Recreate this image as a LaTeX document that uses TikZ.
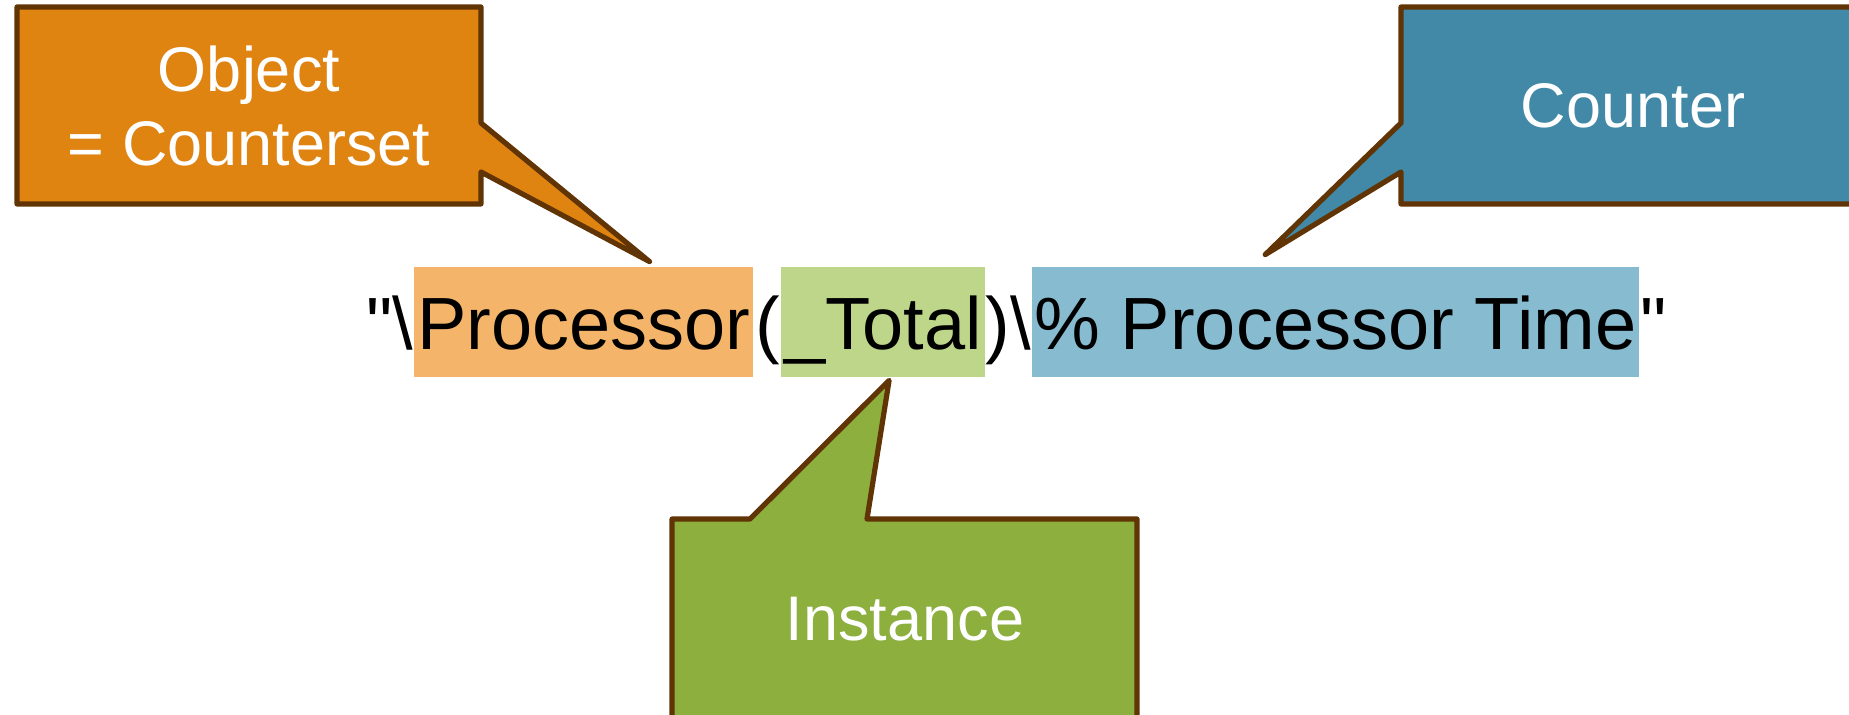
\documentclass[tikz,border=0pt]{standalone}
\usepackage{fontspec}
\setmainfont{Liberation Sans}
\usetikzlibrary{positioning}

\definecolor{edgebrown}{RGB}{96,52,5}
\definecolor{objfill}{RGB}{223,131,17}
\definecolor{ctrfill}{RGB}{65,137,166}
\definecolor{instfill}{RGB}{140,175,61}
\definecolor{objlight}{RGB}{244,181,106}
\definecolor{ctrlight}{RGB}{135,187,208}
\definecolor{instlight}{RGB}{190,214,138}

\tikzset{
	strtext/.style={inner sep=0pt, font=\fontsize{37}{44}\selectfont},
	hilite/.style={strtext, fill=#1, inner xsep=1.5pt, text height=41.5pt, text depth=13.5pt},
	callout/.style={draw=edgebrown, fill=#1, line width=2.6pt, line join=round},
	calloutlbl/.style={text=white, align=center, font=\fontsize{31.5}{37}\selectfont}
}

\begin{document}
\begin{tikzpicture}[x=0.5pt,y=-0.5pt]
\useasboundingbox (0,0) rectangle (1849,715);
\clip (0,0) rectangle (1849,715);

% the counter path, piece by piece
\node[strtext, anchor=base west] (q1) at (366,350) {\textquotedbl\textbackslash};
\node[hilite=objlight, base right=0pt of q1] (proc) {Processor};
\node[strtext, base right=1pt of proc] (lpar) {(};
\node[hilite=instlight, base right=0pt of lpar] (total) {\_Total};
\node[strtext, base right=0pt of total] (rpar) {)\textbackslash};
\node[hilite=ctrlight, base right=0pt of rpar] (ctr) {\% Processor Time};
\node[strtext, base right=0pt of ctr] (q2) {\textquotedbl};

% where the callouts point
\coordinate (objtip) at ([xshift=-52pt,yshift=2.5pt]proc.north east);
\coordinate (ctrtip) at ([xshift=117pt,yshift=6pt]ctr.north west);
\coordinate (insttip) at ([xshift=3pt,yshift=-1.5pt]total.south);

% callouts
\draw[callout=objfill] (17,7) -| (481,123) -- (objtip) -- (481,172) |- (17,204) -- cycle;
\draw[callout=ctrfill] (1866,7) -| (1401,123) -- (ctrtip) -- (1401,172) |- (1866,204) -- cycle;
\draw[callout=instfill] (672,722) |- (750,519) -- (insttip) -- (867,519) -| (1137,722) -- cycle;

\node[calloutlbl] (objlbl) at (249,106) {Object\\= Counterset};
\node[calloutlbl] (ctrlbl) at (1633,106) {Counter};
\node[calloutlbl] (instlbl) at (905,619) {Instance};
\end{tikzpicture}
\end{document}
